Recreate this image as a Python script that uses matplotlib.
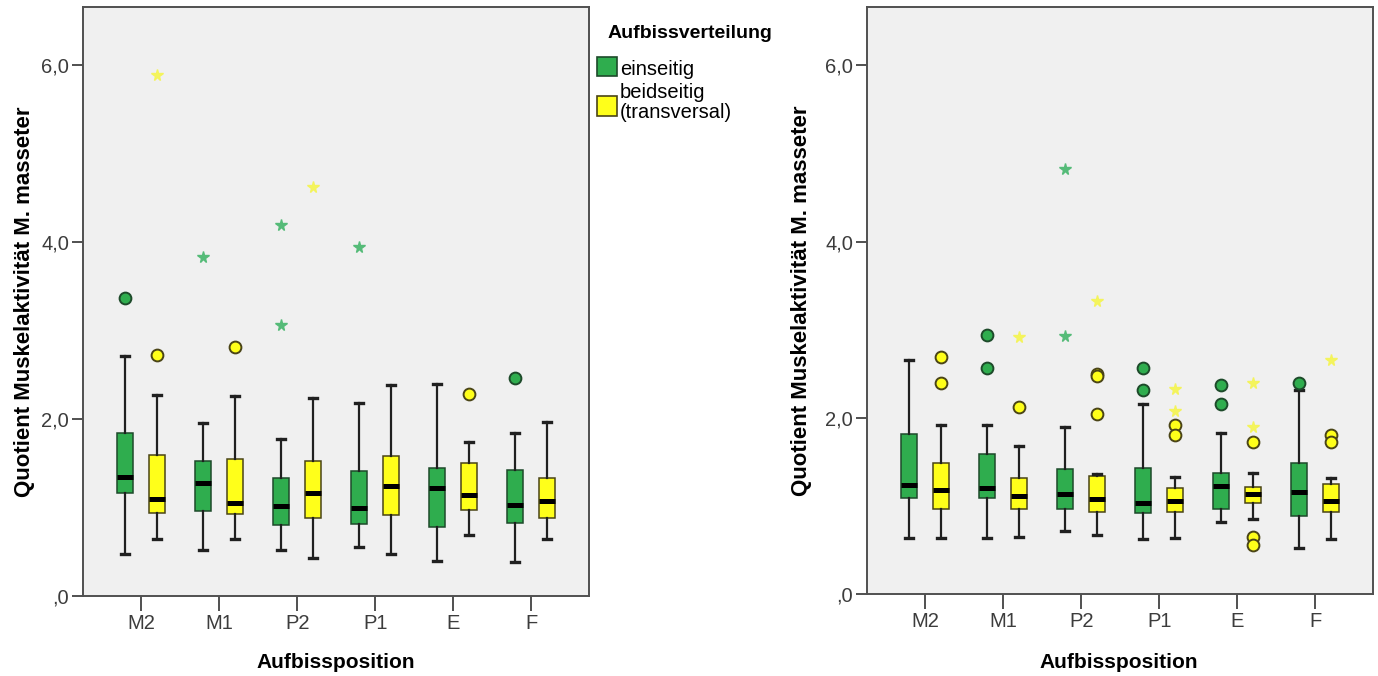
import matplotlib
matplotlib.use('Agg')
import matplotlib.pyplot as plt
from matplotlib.patches import Rectangle

plt.rcParams['font.family'] = ['Liberation Sans', 'DejaVu Sans']

positions = ['M2', 'M1', 'P2', 'P1', 'E', 'F']
y_ticks = [0.0, 2.0, 4.0, 6.0]
y_tick_labels = [',0', '2,0', '4,0', '6,0']

# left chart, einseitig
l_ein_whislo = [0.47, 0.52, 0.52, 0.56, 0.40, 0.39]
l_ein_q1 = [1.17, 0.96, 0.80, 0.82, 0.78, 0.83]
l_ein_med = [1.35, 1.28, 1.02, 1.00, 1.22, 1.03]
l_ein_q3 = [1.84, 1.53, 1.33, 1.41, 1.45, 1.42]
l_ein_whishi = [2.71, 1.96, 1.77, 2.18, 2.40, 1.84]
l_ein_out = [[3.37], [], [], [], [], [2.47]]
l_ein_ext = [[], [3.83], [4.20, 3.07], [3.95], [], []]

# left chart, beidseitig
l_bei_whislo = [0.64, 0.65, 0.43, 0.47, 0.69, 0.64]
l_bei_q1 = [0.94, 0.93, 0.88, 0.92, 0.97, 0.88]
l_bei_med = [1.10, 1.05, 1.16, 1.24, 1.14, 1.07]
l_bei_q3 = [1.60, 1.55, 1.53, 1.58, 1.50, 1.34]
l_bei_whishi = [2.27, 2.26, 2.24, 2.39, 1.74, 1.97]
l_bei_out = [[2.72], [2.82], [], [], [2.29], []]
l_bei_ext = [[5.89], [], [4.63], [], [], []]

# right chart, einseitig
r_ein_whislo = [0.63, 0.63, 0.72, 0.62, 0.82, 0.52]
r_ein_q1 = [1.09, 1.09, 0.96, 0.92, 0.96, 0.88]
r_ein_med = [1.24, 1.20, 1.13, 1.03, 1.23, 1.16]
r_ein_q3 = [1.82, 1.59, 1.42, 1.43, 1.37, 1.49]
r_ein_whishi = [2.66, 1.92, 1.90, 2.16, 1.83, 2.31]
r_ein_out = [[], [2.94, 2.56], [], [2.56, 2.32], [2.37, 2.16], [2.40]]
r_ein_ext = [[], [], [4.82, 2.93], [], [], []]

# right chart, beidseitig
r_bei_whislo = [0.63, 0.65, 0.67, 0.64, 0.85, 0.62]
r_bei_q1 = [0.96, 0.97, 0.93, 0.93, 1.03, 0.93]
r_bei_med = [1.18, 1.11, 1.08, 1.06, 1.13, 1.06]
r_bei_q3 = [1.49, 1.32, 1.34, 1.20, 1.22, 1.25]
r_bei_whishi = [1.92, 1.68, 1.36, 1.33, 1.37, 1.32]
r_bei_out = [[2.69, 2.39], [2.12], [2.50, 2.47, 2.04], [1.92, 1.80], [1.72, 0.65, 0.56], [1.80, 1.72]]
r_bei_ext = [[], [2.92], [3.33], [2.33, 2.08], [2.39, 1.90], [2.66]]

GREEN = '#2fad4e'
YELLOW = '#ffff1a'
GREEN_EDGE = '#1d4a2a'
YELLOW_EDGE = '#4a4416'
GREEN_STAR = '#55bb78'
YELLOW_STAR = '#f4f45c'
BG = '#f0f0f0'
FRAME = '#505050'

W, H = 1378, 676


def draw_group(ax, offset, whislo, q1, med, q3, whishi, out, ext, fill, edge, star_col):
    stats = []
    for i in range(len(positions)):
        stats.append({'whislo': whislo[i], 'q1': q1[i], 'med': med[i],
                      'q3': q3[i], 'whishi': whishi[i], 'fliers': []})
    pos = [i + offset for i in range(len(positions))]
    ax.bxp(stats, positions=pos, widths=0.21, capwidths=0.1, patch_artist=True,
           showfliers=False, manage_ticks=False,
           boxprops=dict(facecolor=fill, edgecolor=edge, linewidth=1.1),
           medianprops=dict(color='black', linewidth=3.6, solid_capstyle='butt'),
           whiskerprops=dict(color='#202020', linewidth=1.6),
           capprops=dict(color='#202020', linewidth=2.4))
    for i in range(len(positions)):
        if out[i]:
            ax.plot([pos[i]] * len(out[i]), out[i], 'o', ms=8.5, mfc=fill,
                    mec=edge, mew=1.4, zorder=4)
        if ext[i]:
            ax.plot([pos[i]] * len(ext[i]), ext[i], '*', ms=8.5, color=star_col,
                    mec=star_col, zorder=4)


def style_axes(ax):
    ax.set_facecolor(BG)
    ax.set_xlim(-0.745, 5.74)
    ax.set_ylim(0, 6.66)
    ax.set_xticks(range(len(positions)))
    ax.set_xticklabels(positions)
    ax.set_yticks(y_ticks)
    ax.set_yticklabels(y_tick_labels)
    for s in ax.spines.values():
        s.set_color(FRAME)
        s.set_linewidth(1.4)
    ax.tick_params(axis='both', direction='out', color=FRAME, width=1.4,
                   labelsize=14.5, labelcolor='#3c3c3c', pad=2)
    ax.tick_params(axis='x', length=11)
    ax.tick_params(axis='y', length=8)
    ax.set_xlabel('Aufbissposition', fontsize=15, fontweight='bold')
    ax.set_ylabel('Quotient Muskelaktivität M. masseter', fontsize=16, fontweight='bold')


fig = plt.figure(figsize=(13.78, 6.76), dpi=100)
ax_l = fig.add_axes([0.0602, 0.1183, 0.3672, 0.8713])
ax_r = fig.add_axes([0.6292, 0.1213, 0.3672, 0.868])

draw_group(ax_l, -0.205, l_ein_whislo, l_ein_q1, l_ein_med, l_ein_q3, l_ein_whishi,
           l_ein_out, l_ein_ext, GREEN, GREEN_EDGE, GREEN_STAR)
draw_group(ax_l, 0.205, l_bei_whislo, l_bei_q1, l_bei_med, l_bei_q3, l_bei_whishi,
           l_bei_out, l_bei_ext, YELLOW, YELLOW_EDGE, YELLOW_STAR)
draw_group(ax_r, -0.205, r_ein_whislo, r_ein_q1, r_ein_med, r_ein_q3, r_ein_whishi,
           r_ein_out, r_ein_ext, GREEN, GREEN_EDGE, GREEN_STAR)
draw_group(ax_r, 0.205, r_bei_whislo, r_bei_q1, r_bei_med, r_bei_q3, r_bei_whishi,
           r_bei_out, r_bei_ext, YELLOW, YELLOW_EDGE, YELLOW_STAR)

for ax in (ax_l, ax_r):
    style_axes(ax)
ax_l.yaxis.set_label_coords(-0.095, 0.5)
ax_r.yaxis.set_label_coords(-0.109, 0.5)
ax_l.xaxis.set_label_coords(0.5, -0.097)
ax_r.xaxis.set_label_coords(0.498, -0.1005)

# legend block between the two charts
fig.text(608 / W, 1 - 33 / H, 'Aufbissverteilung', fontsize=14, fontweight='bold',
         va='center', ha='left')
fig.add_artist(Rectangle((597 / W, 1 - 76 / H), 20 / W, 19 / H, transform=fig.transFigure,
                         facecolor=GREEN, edgecolor=GREEN_EDGE, linewidth=1.2))
fig.add_artist(Rectangle((597 / W, 1 - 116 / H), 20 / W, 20 / H, transform=fig.transFigure,
                         facecolor=YELLOW, edgecolor=YELLOW_EDGE, linewidth=1.2))
fig.text(620 / W, 1 - 75 / H, 'einseitig', fontsize=14.5, va='baseline', ha='left')
fig.text(620 / W, 1 - 98 / H, 'beidseitig', fontsize=14.5, va='baseline', ha='left')
fig.text(620 / W, 1 - 118 / H, '(transversal)', fontsize=14.5, va='baseline', ha='left')

fig.savefig('out.png', dpi=100)
